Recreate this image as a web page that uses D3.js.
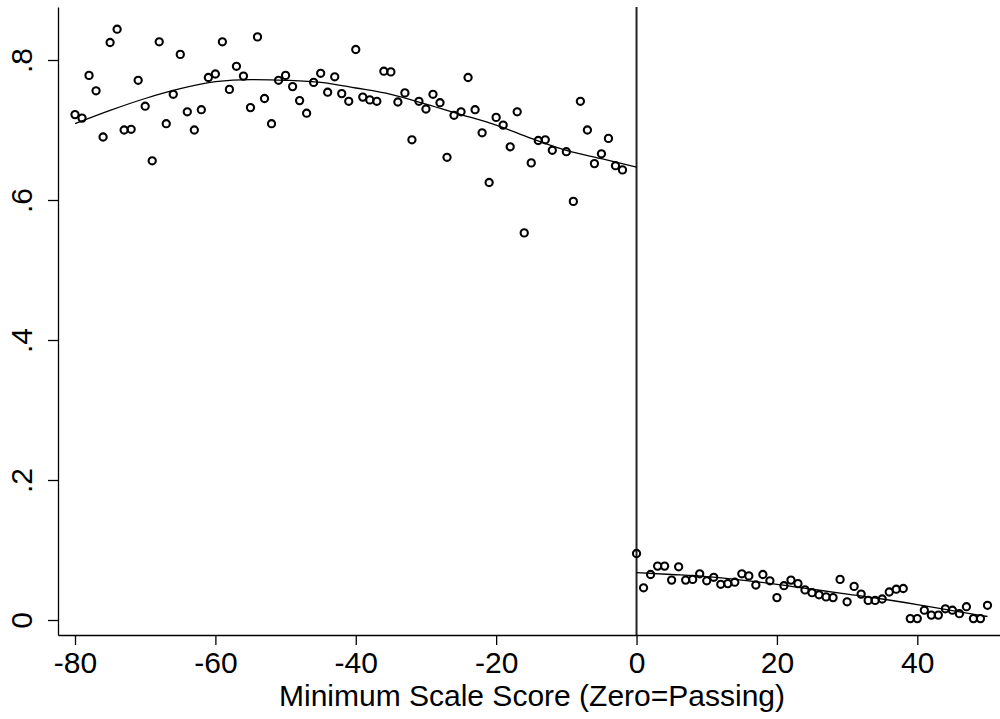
<!DOCTYPE html>
<html>
<head>
<meta charset="utf-8">
<script src="https://cdn.jsdelivr.net/npm/d3@7"></script>
<style>
  body { margin: 0; background: #fff; }
  svg { display: block; font-family: "Liberation Sans", Arial, sans-serif; }
</style>
</head>
<body>
<svg></svg>
<script>
// --------------- data

// below the cut score
const leftX = [
  -80, -79, -78, -77, -76, -75, -74, -73, -72, -71,
  -70, -69, -68, -67, -66, -65, -64, -63, -62, -61,
  -60, -59, -58, -57, -56, -55, -54, -53, -52, -51,
  -50, -49, -48, -47, -46, -45, -44, -43, -42, -41,
  -40, -39, -38, -37, -36, -35, -34, -33, -32, -31,
  -30, -29, -28, -27, -26, -25, -24, -23, -22, -21,
  -20, -19, -18, -17, -16, -15, -14, -13, -12, -10,
  -9, -8, -7, -6, -5, -4, -3, -2
];
const leftY = [
  0.722, 0.717, 0.778, 0.756, 0.690, 0.825, 0.844, 0.700, 0.701, 0.771,
  0.734, 0.656, 0.826, 0.709, 0.751, 0.808, 0.726, 0.700, 0.729, 0.775,
  0.780, 0.826, 0.758, 0.791, 0.777, 0.732, 0.833, 0.745, 0.709, 0.771,
  0.778, 0.762, 0.742, 0.724, 0.768, 0.781, 0.754, 0.776, 0.752, 0.741,
  0.815, 0.747, 0.743, 0.741, 0.784, 0.783, 0.740, 0.753, 0.686, 0.741,
  0.730, 0.751, 0.739, 0.661, 0.721, 0.726, 0.775, 0.729, 0.696, 0.625,
  0.718, 0.707, 0.676, 0.726, 0.553, 0.653, 0.685, 0.686, 0.671, 0.669,
  0.598, 0.741, 0.700, 0.652, 0.666, 0.688, 0.649, 0.643
];

// at or above the cut score
const rightX = [
  0, 1, 2, 3, 4, 5, 6, 7, 8, 9,
  10, 11, 12, 13, 14, 15, 16, 17, 18, 19,
  20, 21, 22, 23, 24, 25, 26, 27, 28, 29,
  30, 31, 32, 33, 34, 35, 36, 37, 38, 39,
  40, 41, 42, 43, 44, 45, 46, 47, 48, 49, 50
];
const rightY = [
  0.095, 0.046, 0.065, 0.077, 0.077, 0.057, 0.076, 0.057, 0.058, 0.066,
  0.056, 0.061, 0.051, 0.052, 0.054, 0.066, 0.063, 0.050, 0.065, 0.056,
  0.032, 0.049, 0.057, 0.052, 0.043, 0.039, 0.036, 0.033, 0.032, 0.058,
  0.026, 0.048, 0.037, 0.028, 0.028, 0.030, 0.040, 0.044, 0.045, 0.002,
  0.002, 0.014, 0.007, 0.007, 0.016, 0.014, 0.009, 0.019, 0.002, 0.002, 0.021
];

// fitted lines
const fitLeftX = [-80, -75, -70, -65, -60, -55, -50, -45, -40, -35, -30, -25, -20, -15, -10, -5, 0];
const fitLeftY = [0.709, 0.728, 0.745, 0.759, 0.769, 0.772, 0.771, 0.768, 0.760, 0.751, 0.737, 0.722, 0.707, 0.688, 0.671, 0.659, 0.647];
const fitRightX = [0, 5, 10, 15, 20, 25, 30, 35, 40, 45, 50];
const fitRightY = [0.0676, 0.065, 0.062, 0.057, 0.051, 0.044, 0.037, 0.030, 0.022, 0.0135, 0.005];

const xTicks = [-80, -60, -40, -20, 0, 20, 40];
const yTicks = [0, 0.2, 0.4, 0.6, 0.8];
const yTickLabels = ['0', '.2', '.4', '.6', '.8'];
const xTitle = 'Minimum Scale Score (Zero=Passing)';

// --------------- setup
const width = 1000;
const height = 719;
const svg = d3.select('svg').attr('width', width).attr('height', height);

const x = d3.scaleLinear().domain([-80, 40]).range([75, 917.3]);
const y = d3.scaleLinear().domain([0, 0.8]).range([620, 60]);

// axis scales stretched to the full frame
const xa = x.copy().domain([x.invert(58), x.invert(1000)]).range([58, 1000]);
const ya = y.copy().domain([y.invert(635), y.invert(7)]).range([635, 7]);

const fontSize = 30;

// --------------- axes
// plain hyphen for negatives, like the original
const gx = svg.append('g')
  .attr('transform', 'translate(0,' + 635 + ')')
  .call(d3.axisBottom(xa).tickValues(xTicks).tickSize(10).tickSizeOuter(0).tickPadding(6)
    .tickFormat(function (d) { return String(d); }));
gx.selectAll('text').attr('font-size', fontSize).attr('font-family', null).attr('dy', '0.72em');

const gy = svg.append('g')
  .attr('transform', 'translate(' + 58 + ',0)')
  .call(d3.axisLeft(ya).tickValues(yTicks).tickSize(10).tickSizeOuter(0)
    .tickFormat(function (d, i) { return yTickLabels[i]; }));
gy.selectAll('text')
  .attr('font-size', fontSize)
  .attr('font-family', null)
  .attr('text-anchor', 'middle')
  .attr('x', null)
  .attr('dy', null)
  .attr('transform', 'translate(-26,0) rotate(-90)');

svg.selectAll('.domain, .tick line').attr('stroke', '#000').attr('stroke-width', 1.3);

svg.append('text')
  .attr('x', 532)
  .attr('y', 706)
  .attr('text-anchor', 'middle')
  .attr('font-size', fontSize)
  .text(xTitle);

// --------------- cut line
svg.append('line')
  .attr('x1', x(0)).attr('x2', x(0))
  .attr('y1', 7).attr('y2', 635)
  .attr('stroke', '#222')
  .attr('stroke-width', 2);

// --------------- fits
const line = d3.line()
  .x(function (d) { return x(d[0]); })
  .y(function (d) { return y(d[1]); })
  .curve(d3.curveMonotoneX);

svg.append('path')
  .datum(d3.zip(fitLeftX, fitLeftY))
  .attr('d', line)
  .attr('fill', 'none')
  .attr('stroke', '#000')
  .attr('stroke-width', 1.3);

svg.append('path')
  .datum(d3.zip(fitRightX, fitRightY))
  .attr('d', line)
  .attr('fill', 'none')
  .attr('stroke', '#000')
  .attr('stroke-width', 1.3);

// --------------- points
const points = d3.zip(leftX, leftY).concat(d3.zip(rightX, rightY));

svg.append('g')
  .selectAll('circle')
  .data(points)
  .enter()
  .append('circle')
  .attr('cx', function (d) { return x(d[0]); })
  .attr('cy', function (d) { return y(d[1]); })
  .attr('r', 3.6)
  .attr('fill', 'none')
  .attr('stroke', '#000')
  .attr('stroke-width', 2.1);
</script>
</body>
</html>
